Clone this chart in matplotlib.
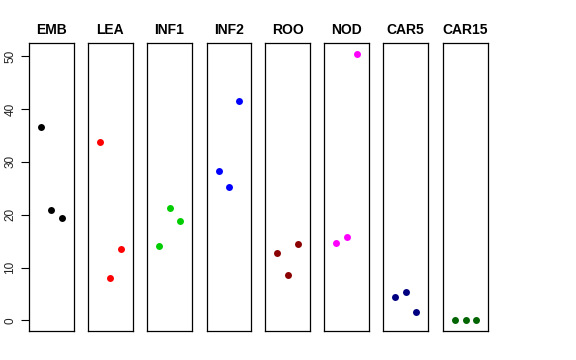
import matplotlib
matplotlib.use("Agg")
import matplotlib.pyplot as plt

plt.rcParams["font.family"] = ["Liberation Sans", "DejaVu Sans"]

groups = ["EMB", "LEA", "INF1", "INF2", "ROO", "NOD", "CAR5", "CAR15"]
colors = ["black", "red", "#00CD00", "blue", "#8B0000", "magenta", "#000080", "#006400"]
values = {
    "EMB":   [36.6, 20.8, 19.3],
    "LEA":   [33.7, 7.95, 13.6],
    "INF1":  [14.1, 21.2, 18.9],
    "INF2":  [28.2, 25.3, 41.6],
    "ROO":   [12.75, 8.6, 14.5],
    "NOD":   [14.6, 15.8, 50.5],
    "CAR5":  [4.4, 5.4, 1.6],
    "CAR15": [0.0, 0.0, 0.0],
}
yticks = [0, 10, 20, 30, 40, 50]

W, H = 576, 360
fig = plt.figure(figsize=(W / 100, H / 100), dpi=100)
lefts = [29, 88, 147.3, 206.7, 265.3, 324.3, 383.3, 443.3]
pw = 44.5
top, bottom = 43, 331
ylo, yhi = -2.02, 52.52
for i, g in enumerate(groups):
    ax = fig.add_axes([lefts[i] / W, 1 - bottom / H, pw / W, (bottom - top) / H])
    ax.plot([1, 2, 3], values[g], "o", color=colors[i], ms=5, mec="none")
    ax.set_xlim(-0.16, 4.16)
    ax.set_ylim(ylo, yhi)
    ax.set_xticks([])
    for s in ax.spines.values():
        s.set_linewidth(0.9)
        s.set_color("black")
    ax.set_title(g, fontsize=10, fontweight="bold", pad=6.5)
    if i == 0:
        ax.set_yticks(yticks)
        ax.set_yticklabels([str(t) for t in yticks], rotation=90, va="center",
                           fontsize=8.5, color="#222222")
        ax.tick_params(axis="y", length=6, width=0.8, pad=3)
    else:
        ax.set_yticks([])

fig.savefig("out.png", dpi=100)
